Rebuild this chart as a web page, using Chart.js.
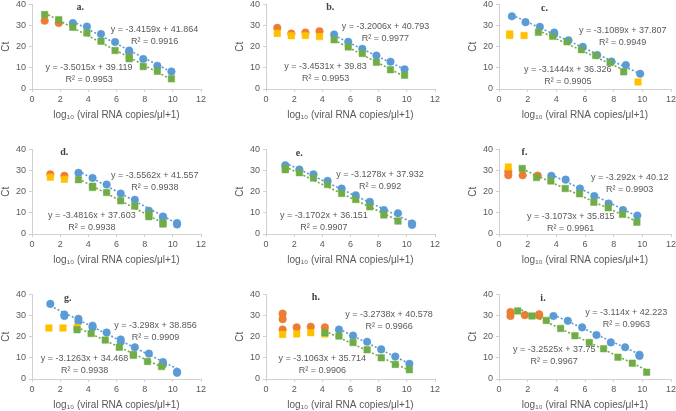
<!DOCTYPE html>
<html lang="en">
<head>
  <meta charset="UTF-8" />
  <meta name="viewport" content="width=device-width, initial-scale=1.0"/>
  <title>Ct standard curves</title>
  <script src="https://cdn.jsdelivr.net/npm/chart.js"></script>
  <style>
    body {
      margin: 0;
      width: 676px;
      height: 411px;
      overflow: hidden;
      background: #fff;
      position: relative;
    }
    .panel { position: absolute; }
  </style>
</head>
<body>
  <div id="wrap"></div>

  <script>
    // panel names
    const panelNames = ["a.", "b.", "c.", "d.", "e.", "f.", "g.", "h.", "i."];

    // blue circles (first assay, fitted points)
    const blueA = [[2.9,31.2],[3.9,29.5],[4.9,26],[5.9,22.2],[6.9,18.2],[6.9,17.5],[7.9,14.2],[8.9,11],[9.9,8.3]];
    const blueB = [[4.84,25.8],[5.84,22.3],[6.84,19],[7.84,15.8],[8.84,12.9],[9.84,9.3]];
    const blueC = [[0.9,34.4],[1.85,31.6],[2.85,29.4],[3.85,26.7],[3.85,25.9],[4.85,23],[5.85,19.9],[6.85,16.1],[7.85,13],[8.85,11.3],[9.85,7.2]];
    const blueD = [[3.3,28.9],[4.3,26.5],[5.3,23.4],[6.3,19.1],[7.3,16.2],[8.3,11],[9.3,8.3],[9.3,7.8],[10.3,5.2],[10.3,4.5]];
    const blueE = [[1.37,32.5],[2.37,30.5],[3.37,28.2],[4.37,25.1],[5.37,21.5],[6.37,18.3],[7.37,15.2],[8.37,11.3],[9.37,9.8],[10.37,5],[10.37,4.3]];
    const blueF = [[3.65,27.5],[4.65,25.7],[5.65,21.5],[6.65,17.9],[7.65,14.4],[8.65,11.3],[9.65,8.7]];
    const blueG = [[1.3,35.5],[2.3,30.5],[2.3,29.8],[3.3,28.5],[3.3,27.2],[4.3,25.2],[4.3,24.4],[5.3,22],[6.3,18.7],[6.3,17.6],[7.3,15],[8.3,12],[9.3,8],[9.3,6.8],[10.3,3.4],[10.3,2.9]];
    const blueH = [[5.18,23.4],[6.18,20.5],[7.18,17.6],[8.18,14],[9.18,10.6],[10.18,7.2]];
    const blueI = [[3.8,29.8],[4.8,27.5],[5.8,24.4],[6.8,20.8],[7.8,17.3],[8.8,15],[9.8,11.5],[9.8,10.9]];

    // orange circles (first assay, excluded points)
    const orangeA = [[0.9,32.3],[1.9,31.2]];
    const orangeB = [[0.8,28.9],[1.8,26.2],[2.8,26.7],[3.8,27.3]];
    const orangeC = [];
    const orangeD = [[1.3,28.2],[2.3,27.5]];
    const orangeE = [];
    const orangeF = [[0.65,29.6],[0.65,27.8],[1.65,27.8],[2.7,27.6]];
    const orangeG = [];
    const orangeH = [[1.18,30.9],[1.18,28.3],[1.18,23.4],[2.18,24.4],[3.18,24.7],[4.18,24.4]];
    const orangeI = [[0.8,31.7],[0.8,29.8],[1.8,30.2],[2.8,30.6],[2.8,29.9]];

    // yellow squares (second assay, excluded points)
    const yellowA = [];
    const yellowB = [[0.8,26.3],[1.8,25.2],[2.8,25.3],[3.8,24.8]];
    const yellowC = [[0.75,26],[0.75,25.3],[1.75,25.3],[9.7,3.3]];
    const yellowD = [[1.3,26.8],[2.3,25.9]];
    const yellowE = [];
    const yellowF = [[0.65,31.7]];
    const yellowG = [[1.2,24.1],[2.2,24.1],[3.2,24.3]];
    const yellowH = [[1.18,21.1],[2.18,21.3],[3.18,21.9],[4.18,21.3]];
    const yellowI = [];

    // green squares (second assay, fitted points)
    const greenA = [[0.9,35.2],[1.9,32.8],[2.9,29.2],[3.9,26.5],[4.9,22.6],[5.9,18.2],[6.9,15],[6.9,14.3],[7.9,10.6],[8.9,8.4],[9.9,4.8]];
    const greenB = [[4.84,23.3],[5.84,19.9],[6.84,16.8],[7.84,12.6],[8.84,9.1],[9.84,6.5]];
    const greenC = [[2.75,26.8],[3.75,24.9],[4.75,22.3],[5.75,18.6],[6.75,15.8],[7.75,12.5],[8.7,8.1]];
    const greenD = [[3.3,25.7],[4.3,22.6],[4.3,22],[5.3,19.6],[6.3,15.7],[7.3,13.2],[8.3,9.4],[8.3,8.2],[9.3,5.2],[9.3,4.7]];
    const greenE = [[1.37,31],[1.37,30.4],[2.37,29],[3.37,26.5],[4.37,23.4],[5.37,19.2],[6.37,16.3],[7.37,12.9],[8.37,9],[9.37,6.1]];
    const greenF = [[1.62,31],[2.62,26.7],[3.62,25.1],[4.62,21.5],[5.62,19],[6.62,15],[7.62,12.4],[8.62,9.3],[9.62,5.6]];
    const greenG = [[3.2,23.3],[4.2,21.5],[5.2,18.4],[6.2,15],[7.2,11.6],[7.2,11.2],[8.2,8.3],[9.2,5.9]];
    const greenH = [[4.18,21.9],[5.18,20.3],[6.18,17.2],[7.18,13.8],[8.18,10],[9.18,6.9],[10.18,4.4]];
    const greenI = [[1.3,32.2],[2.3,29.8],[3.3,27.7],[4.3,23.9],[5.3,20.5],[6.3,17.3],[7.3,14.3],[8.3,10.3],[9.3,7.5],[10.3,3.2]];

    // linear fits [slope, intercept, R²] per panel
    const blueFit = [[-3.4159,41.864,0.9916],[-3.2006,40.793,0.9977],[-3.1089,37.807,0.9949],[-3.5562,41.557,0.9938],[-3.1278,37.932,0.992],[-3.292,40.12,0.9903],[-3.298,38.856,0.9909],[-3.2738,40.578,0.9966],[-3.114,42.223,0.9963]];
    const greenFit = [[-3.5015,39.119,0.9953],[-3.4531,39.83,0.9953],[-3.1444,36.326,0.9905],[-3.4816,37.603,0.9938],[-3.1702,36.151,0.9907],[-3.1073,35.815,0.9961],[-3.1263,34.468,0.9938],[-3.1063,35.714,0.9906],[-3.2525,37.75,0.9967]];

    const xTicks = { min: 0, max: 12, step: 2 };
    const yTicks = { min: 0, max: 40, step: 5 };

    const blues = [blueA, blueB, blueC, blueD, blueE, blueF, blueG, blueH, blueI];
    const oranges = [orangeA, orangeB, orangeC, orangeD, orangeE, orangeF, orangeG, orangeH, orangeI];
    const yellows = [yellowA, yellowB, yellowC, yellowD, yellowE, yellowF, yellowG, yellowH, yellowI];
    const greens = [greenA, greenB, greenC, greenD, greenE, greenF, greenG, greenH, greenI];

    // layout: where each plot area sits, and where labels go (in axis units)
    const areaLefts = [32, 266, 499];
    const areaRights = [201, 435, 671];
    const areaTops = [4, 149, 294];
    const AREA_H = 85, PAD_TOP = 8, Y_W = 32, X_H = 36, PAD_R = 20;
    const blueLabelAt = [[8.7,28.3],[8.48,29.7],[8.63,27.5],[8.72,27.5],[8.1,28.1],[9.12,26.5],[8.77,25.2],[8.74,30.5],[8.88,31.25]];
    const greenLabelAt = [[4.05,10.2],[4.23,10.6],[4.8,9.1],[4.25,8.9],[4.11,8.9],[5.0,8.2],[3.73,9.8],[4.0,9.8],[3.85,13.75]];
    const nameAt = [[3.43,38.4],[4.56,38.75],[3.18,38],[2.29,38.4],[2.36,37.9],[1.78,38.4],[2.53,38],[3.54,38.4],[3.07,38]];

    const FONT = "'Liberation Sans', Arial, sans-serif";
    const TXT = "#595959";
    const BLUE = "#5B9BD5", ORANGE = "#ED7D31", YELLOW = "#FFC000", GREEN = "#70AD47";

    const toXY = arr => arr.map(p => ({ x: p[0], y: p[1] }));

    function fitLine(points, fit) {
      const xs = points.map(p => p[0]);
      const x0 = Math.min(...xs), x1 = Math.max(...xs);
      return [x0, x1].map(x => ({ x: x, y: fit[0] * x + fit[1] }));
    }

    const panelText = {
      id: "panelText",
      afterDatasetsDraw(chart, args, opts) {
        const { ctx, scales: { x, y } } = chart;
        const i = opts.idx;
        ctx.save();
        ctx.textAlign = "center";
        ctx.textBaseline = "middle";
        ctx.fillStyle = TXT;
        ctx.font = "9px " + FONT;
        [[blueFit[i], blueLabelAt[i]], [greenFit[i], greenLabelAt[i]]].forEach(([f, at]) => {
          const px = x.getPixelForValue(at[0]), py = y.getPixelForValue(at[1]);
          ctx.fillText("y = " + f[0] + "x + " + f[1], px, py);
          ctx.fillText("R² = " + f[2], px, py + 12);
        });
        ctx.font = "bold 10px 'Liberation Serif', 'Times New Roman', serif";
        ctx.fillStyle = "#404040";
        ctx.fillText(panelNames[i], x.getPixelForValue(nameAt[i][0]), y.getPixelForValue(nameAt[i][1]));
        ctx.restore();
      }
    };

    const wrap = document.getElementById("wrap");

    panelNames.forEach((name, i) => {
      const col = i % 3, row = Math.floor(i / 3);
      const div = document.createElement("div");
      div.className = "panel";
      div.style.left = (areaLefts[col] - Y_W) + "px";
      div.style.top = (areaTops[row] - PAD_TOP) + "px";
      div.style.width = (Y_W + areaRights[col] - areaLefts[col] + PAD_R) + "px";
      div.style.height = (PAD_TOP + AREA_H + X_H) + "px";
      const cv = document.createElement("canvas");
      div.appendChild(cv);
      wrap.appendChild(div);

      const circle = (data, color, order) => ({
        type: "scatter", data: toXY(data), order: order,
        pointStyle: "circle", pointRadius: 3.8,
        backgroundColor: color, borderColor: color, borderWidth: 0.5
      });
      const square = (data, color, order) => ({
        type: "scatter", data: toXY(data), order: order,
        pointStyle: "rect", pointRadius: 4.6,
        backgroundColor: color, borderColor: color, borderWidth: 0.5
      });
      const trend = (data, fit, color) => ({
        type: "line", data: fitLine(data, fit), order: 0,
        borderColor: color, borderWidth: 1.6, borderDash: [2, 2],
        pointRadius: 0, fill: false
      });

      new Chart(cv, {
        type: "scatter",
        data: {
          datasets: [
            trend(blues[i], blueFit[i], BLUE),
            trend(greens[i], greenFit[i], GREEN),
            square(greens[i], GREEN, 1),
            square(yellows[i], YELLOW, 2),
            circle(oranges[i], ORANGE, 3),
            circle(blues[i], BLUE, 4)
          ]
        },
        options: {
          responsive: true,
          maintainAspectRatio: false,
          animation: false,
          layout: { padding: { top: PAD_TOP, right: PAD_R, left: 0, bottom: 0 } },
          plugins: {
            legend: { display: false },
            tooltip: { enabled: false },
            panelText: { idx: i }
          },
          scales: {
            x: {
              type: "linear",
              min: xTicks.min, max: xTicks.max,
              afterFit: s => { s.height = X_H; },
              ticks: { stepSize: xTicks.step, color: TXT, font: { size: 9, family: FONT }, padding: 2, maxRotation: 0 },
              grid: { drawOnChartArea: false, color: "#d0d0d0", tickLength: 3 },
              border: { color: "#d0d0d0" },
              title: {
                display: true, text: "log₁₀ (viral RNA copies/μl+1)", color: TXT,
                font: { size: 10, family: FONT }, padding: { top: 0, bottom: 4 }
              }
            },
            y: {
              min: yTicks.min, max: yTicks.max,
              afterFit: s => { s.width = Y_W; },
              ticks: { stepSize: yTicks.step, color: TXT, font: { size: 9, family: FONT }, padding: 3 },
              grid: { drawOnChartArea: false, color: "#d0d0d0", tickLength: 3 },
              border: { color: "#d0d0d0" },
              title: {
                display: true, text: "Ct", color: TXT,
                font: { size: 10, family: FONT }, padding: { top: 0, bottom: 0 }
              }
            }
          }
        },
        plugins: [panelText]
      });
    });
  </script>
</body>
</html>
